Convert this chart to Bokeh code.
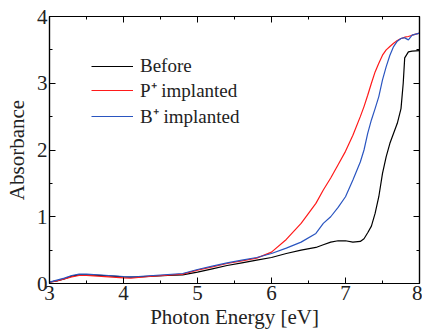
from bokeh.plotting import figure
from bokeh.models import Range1d, LinearAxis, Legend, LegendItem, FixedTicker
from bokeh.embed import file_html
from bokeh.resources import INLINE

energy = [3.0, 3.1, 3.2, 3.3, 3.4, 3.5, 3.6, 3.8, 4.0, 4.1, 4.2, 4.4, 4.6, 4.8,
          5.0, 5.2, 5.4, 5.6, 5.8, 6.0, 6.2, 6.4, 6.6, 6.7, 6.8, 6.9, 7.0, 7.1,
          7.2, 7.25, 7.3, 7.35, 7.4, 7.45, 7.5, 7.55, 7.6, 7.65, 7.7, 7.75, 7.78,
          7.8, 7.85, 7.9, 8.0]
before = [0.02, 0.04, 0.07, 0.11, 0.13, 0.13, 0.125, 0.115, 0.10, 0.095, 0.10, 0.11, 0.12, 0.13,
          0.17, 0.22, 0.27, 0.31, 0.35, 0.39, 0.45, 0.50, 0.54, 0.58, 0.62, 0.64, 0.64, 0.62,
          0.63, 0.67, 0.76, 0.86, 1.05, 1.3, 1.65, 1.9, 2.1, 2.25, 2.4, 2.62, 3.0,
          3.38, 3.47, 3.48, 3.49]
p_impl = [0.02, 0.04, 0.07, 0.10, 0.12, 0.12, 0.115, 0.10, 0.085, 0.08, 0.09, 0.11, 0.125, 0.14,
          0.20, 0.25, 0.30, 0.34, 0.38, 0.47, 0.66, 0.90, 1.2, 1.4, 1.58, 1.78, 1.98, 2.22,
          2.5, 2.65, 2.82, 3.0, 3.17, 3.3, 3.42, 3.5, 3.55, 3.6, 3.64, 3.67, 3.68,
          3.69, 3.70, 3.72, 3.75]
b_impl = [0.02, 0.05, 0.08, 0.12, 0.14, 0.14, 0.135, 0.12, 0.105, 0.10, 0.105, 0.12, 0.135, 0.15,
          0.21, 0.26, 0.31, 0.35, 0.39, 0.45, 0.53, 0.62, 0.75, 0.9, 1.0, 1.14, 1.3, 1.55,
          1.82, 2.0, 2.25, 2.45, 2.62, 2.8, 3.05, 3.25, 3.42, 3.55, 3.63, 3.67, 3.68,
          3.68, 3.65, 3.72, 3.75]
labels = ["Before", "P\u207a implanted", "B\u207a implanted"]
colors = ["#000000", "#ff1a1a", "#2a55c0"]
x_ticks = [3, 4, 5, 6, 7, 8]
x_minor = [3.5, 4.5, 5.5, 6.5, 7.5]
y_ticks = [0, 1, 2, 3, 4]
y_minor = [0.5, 1.5, 2.5, 3.5]

FONT = "serif"

p = figure(width=422, height=336, output_backend="svg", toolbar_location=None,
           x_range=Range1d(3, 8), y_range=Range1d(0, 4),
           min_border_left=49, min_border_right=3, min_border_top=16, min_border_bottom=53)
p.xgrid.visible = False
p.ygrid.visible = False
p.outline_line_color = "black"
p.outline_line_width = 1.2

r1 = p.line(energy, before, line_color=colors[0], line_width=1.2)
r2 = p.line(energy, p_impl, line_color=colors[1], line_width=1.2)
r3 = p.line(energy, b_impl, line_color=colors[2], line_width=1.2)

def style(ax, show_labels=True):
    ax.major_tick_in = 6
    ax.major_tick_out = 0
    ax.minor_tick_in = 3
    ax.minor_tick_out = 0
    ax.axis_line_color = "black"
    ax.axis_line_width = 1.2
    ax.major_tick_line_color = "black"
    ax.minor_tick_line_color = "black"
    ax.major_label_text_font = FONT
    ax.major_label_text_font_size = "21px"
    ax.major_label_text_color = "#222222" if show_labels else None
    ax.axis_label_text_font = FONT
    ax.axis_label_text_font_size = "21px"
    ax.axis_label_text_font_style = "normal"
    ax.axis_label_text_color = "#222222"
    ax.major_label_standoff = 2

xt = FixedTicker(ticks=x_ticks, minor_ticks=x_minor)
yt = FixedTicker(ticks=y_ticks, minor_ticks=y_minor)

p.xaxis.ticker = xt
p.yaxis.ticker = yt
p.xaxis.axis_label = "Photon Energy [eV]"
p.yaxis.axis_label = "Absorbance"
style(p.xaxis[0])
style(p.yaxis[0])
p.xaxis.axis_label_standoff = 2
p.yaxis.axis_label_standoff = 5

top = LinearAxis(ticker=xt)
right = LinearAxis(ticker=yt)
style(top, False)
style(right, False)
top.major_label_text_font_size = "0px"
right.major_label_text_font_size = "0px"
top.major_label_standoff = 0
right.major_label_standoff = 0
p.add_layout(top, "above")
p.add_layout(right, "right")

legend = Legend(items=[LegendItem(label=labels[0], renderers=[r1]),
                       LegendItem(label=labels[1], renderers=[r2]),
                       LegendItem(label=labels[2], renderers=[r3])],
                location=(42, 154))
legend.label_text_font = FONT
legend.label_text_font_size = "19px"
legend.label_text_color = "#222222"
legend.glyph_width = 42
legend.glyph_height = 20
legend.label_height = 20
legend.spacing = -3
legend.label_standoff = 7
legend.padding = 5
legend.margin = 0
legend.border_line_color = None
legend.background_fill_alpha = 0
p.add_layout(legend, "center")

open("out.html", "w").write(file_html(p, INLINE))
